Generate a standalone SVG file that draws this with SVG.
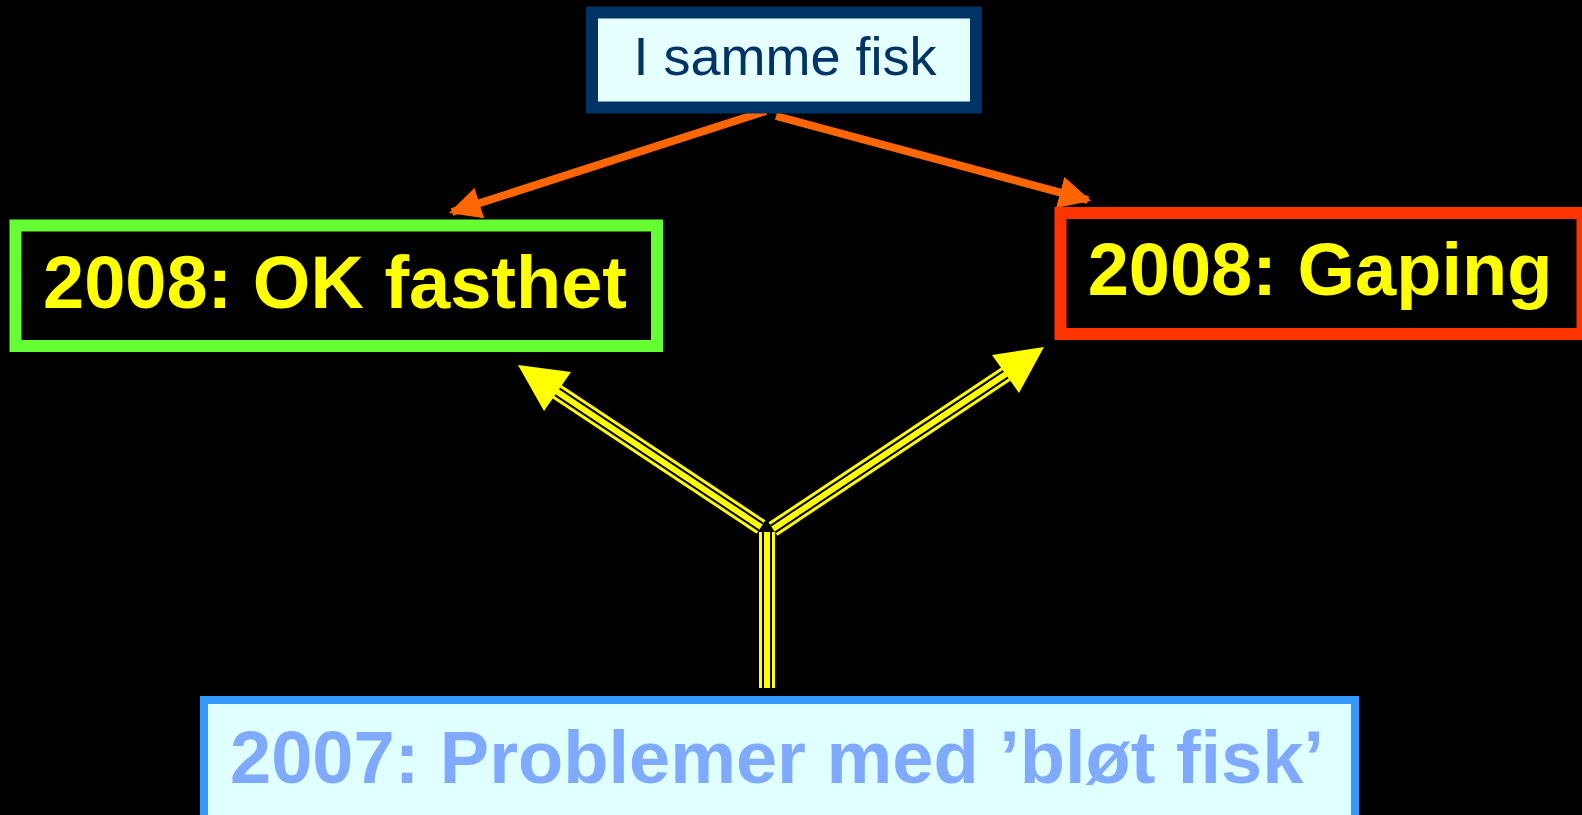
<svg xmlns="http://www.w3.org/2000/svg" width="1582" height="815" viewBox="0 0 1582 815">
<defs>
<style>
.big{font-family:"Liberation Sans",Arial,sans-serif;font-weight:bold;font-size:74px;text-anchor:middle}
.y1{stroke:#ffff00;stroke-width:16;fill:none}
.k{stroke:#000;stroke-width:10;fill:none}
.y2{stroke:#ffff00;stroke-width:6;fill:none}
.or{stroke:#ff6600;stroke-width:8;fill:none}
</style>
<marker id="oh" viewBox="0 0 10 10" refX="9" refY="5" markerWidth="4" markerHeight="4" orient="auto" markerUnits="strokeWidth">
<path d="M0,0 L10,5 L0,10 z" fill="#ff6600"/>
</marker>
</defs>
<rect width="1582" height="815" fill="#000"/>
<g id="connectors">
<line class="or" x1="766" y1="111" x2="452" y2="212" marker-end="url(#oh)"/>
<line class="or" x1="776" y1="116" x2="1088" y2="200" marker-end="url(#oh)"/>
<g id="yellow-arrows">
<path class="y1" d="M767,532 V688"/>
<path class="k" d="M767,532 V688"/>
<path class="y2" d="M767,532 V688"/>
<path class="y1" d="M761,527 L556,391"/>
<path class="k" d="M761,527 L556,391"/>
<path class="y2" d="M761,527 L556,391"/>
<path class="y1" d="M773,529 L1006,374"/>
<path class="k" d="M773,529 L1006,374"/>
<path class="y2" d="M773,529 L1006,374"/>
<polygon points="518,365 571,372 544,411" fill="#ffff00"/>
<polygon points="1044,347 992,355 1019,393" fill="#ffff00"/>
</g>
</g>
<g id="node-top">
<rect x="592" y="12.5" width="384" height="95" fill="#e6ffff" stroke="#003366" stroke-width="12"/>
<text x="785" y="75" font-family="'Liberation Sans',Arial,sans-serif" font-size="54" fill="#003366" text-anchor="middle">I samme fisk</text>
</g>
<g id="node-ok">
<rect x="15.5" y="225.5" width="641.5" height="120.5" fill="#000" stroke="#66ff33" stroke-width="12"/>
<text class="big" x="335" y="308" fill="#ffff00">2008: OK fasthet</text>
</g>
<g id="node-gaping">
<rect x="1060.5" y="213" width="522" height="121" fill="#000" stroke="#ff3300" stroke-width="12"/>
<text class="big" x="1320" y="295" fill="#ffff00">2008: Gaping</text>
</g>
<g id="node-2007">
<rect x="204" y="700" width="1151" height="130" fill="#e0ffff" stroke="#3399ff" stroke-width="8"/>
<text class="big" x="777" y="783" fill="#7faaff" font-size="75">2007: Problemer med ’bløt fisk’</text>
</g>
</svg>
